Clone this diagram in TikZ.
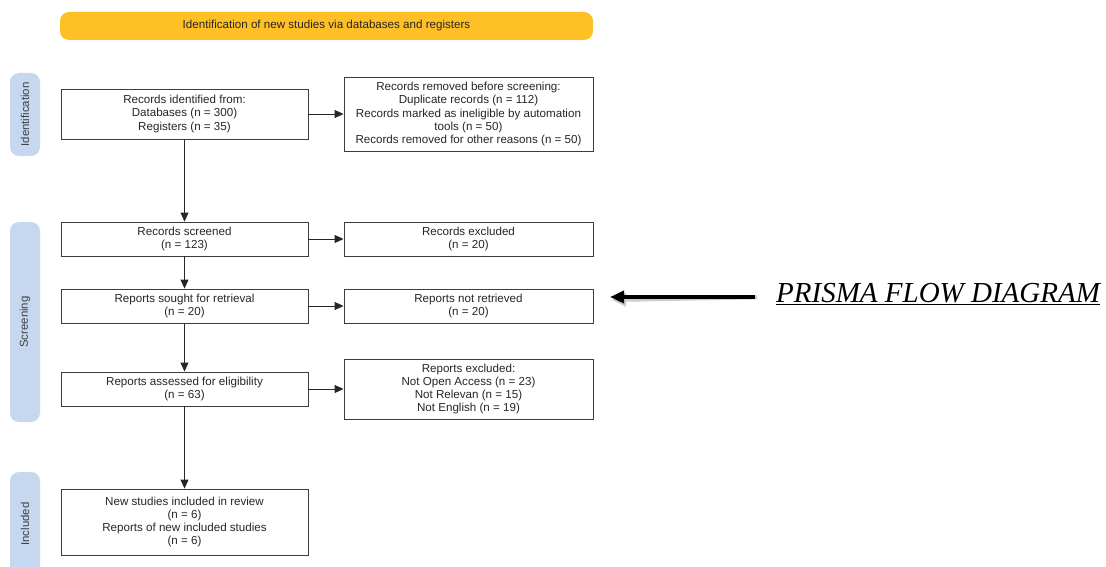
\documentclass[tikz,border=0pt]{standalone}
\usepackage{fontspec}
\setmainfont{Liberation Sans}
\newfontfamily\serifit{Liberation Serif}
\usetikzlibrary{arrows.meta}
\definecolor{bannery}{RGB}{255,192,38}
\definecolor{sideblue}{RGB}{197,216,240}
\definecolor{boxline}{RGB}{60,60,60}
\tikzset{
  box/.style={draw=boxline, line width=0.9pt, fill=white, align=center, inner sep=2pt,
    font=\fontsize{11.6}{13.3}\selectfont, text=black!85},
  side/.style={fill=sideblue, rounded corners=9pt},
  sidelabel/.style={rotate=90, font=\fontsize{11.4}{13}\selectfont, text=black!75},
  flow/.style={draw=black!85, line width=0.9pt, -{Triangle[length=9pt,width=8pt]}},
}
\begin{document}
\begin{tikzpicture}[x=1pt,y=-1pt]
\clip (0,0) rectangle (1106,567);
\fill[white] (0,0) rectangle (1106,567);
% banner
\node[fill=bannery, rounded corners=9pt, minimum width=533pt, minimum height=28pt,
  font=\fontsize{11.6}{13}\selectfont, text=black!85] (banner) at (326.5,26) {Identification of new studies via databases and registers};
% side bars
\fill[side] (10,73) rectangle (40,156);
\node[sidelabel] (lid) at (25,114.5) {Identification};
\fill[side] (10,222) rectangle (40,422);
\node[sidelabel] (lsc) at (25,322) {Screening};
\fill[side] (10,472) rectangle (40,590);
\node[sidelabel] (lin) at (25,524) {Included};
% left column
\node[box, minimum width=247pt, minimum height=50pt] (ident) at (184.5,114) {Records identified from:\\Databases (n = 300)\\Registers (n = 35)};
\node[box, minimum width=247pt, minimum height=34pt] (screen) at (184.5,239) {Records screened\\(n = 123)};
\node[box, minimum width=247pt, minimum height=34pt] (sought) at (184.5,306) {Reports sought for retrieval\\(n = 20)};
\node[box, minimum width=247pt, minimum height=34pt] (assess) at (184.5,389) {Reports assessed for eligibility\\(n = 63)};
\node[box, minimum width=247pt, minimum height=66pt] (incl) at (184.5,522) {New studies included in review\\(n = 6)\\Reports of new included studies\\(n = 6)};
% right column
\node[box, minimum width=249pt, minimum height=74pt] (removed) at (468.5,114) {Records removed before screening:\\Duplicate records (n = 112)\\Records marked as ineligible by automation\\tools (n = 50)\\Records removed for other reasons (n = 50)};
\node[box, minimum width=249pt, minimum height=34pt] (excl) at (468.5,239) {Records excluded\\(n = 20)};
\node[box, minimum width=249pt, minimum height=34pt] (notret) at (468.5,306) {Reports not retrieved\\(n = 20)};
\node[box, minimum width=249pt, minimum height=60pt] (repexcl) at (468.5,389) {Reports excluded:\\Not Open Access (n = 23)\\Not Relevan (n = 15)\\Not English (n = 19)};
% connectors
\draw[flow] (ident) -- (screen);
\draw[flow] (screen) -- (sought);
\draw[flow] (sought) -- (assess);
\draw[flow] (assess) -- (incl);
\draw[flow] (ident) -- (removed);
\draw[flow] (screen) -- (excl);
\draw[flow] (sought) -- (notret);
\draw[flow] (assess) -- (repexcl);
% PRISMA label
\node[anchor=west, inner sep=0pt, font=\serifit\itshape\fontsize{29}{32}\selectfont] (prisma) at (776,294) {\underline{PRISMA FLOW DIAGRAM}};
\coordinate (tip) at (610,297);
\coordinate (tipsh) at (612,300);
\draw[black!20, line width=4pt, -{Triangle[length=14pt,width=13pt]}, shorten <=21pt] ([shift={(2,3)}]prisma.west) -- (tipsh);
\draw[black, line width=3.5pt, -{Triangle[length=14pt,width=12pt]}, shorten <=21pt] (prisma.west |- tip) -- (tip);
\end{tikzpicture}
\end{document}
